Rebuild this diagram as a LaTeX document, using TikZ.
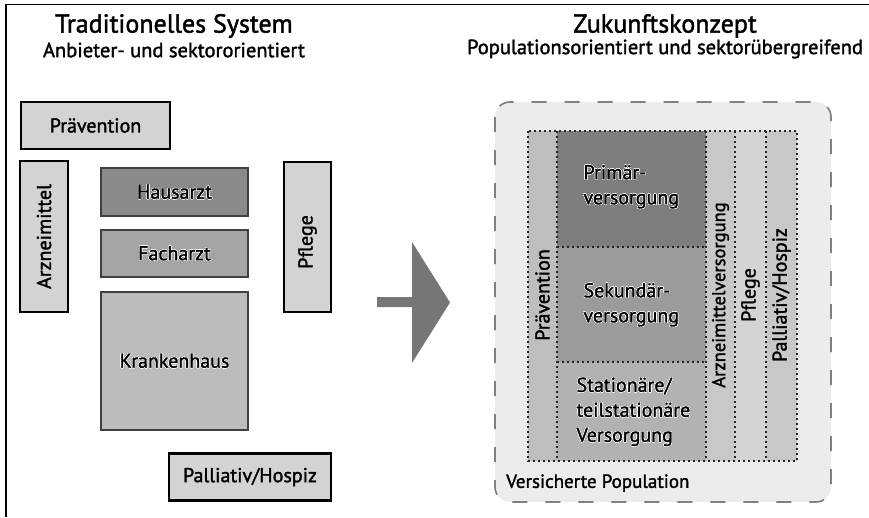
\documentclass[tikz,border=0pt]{standalone}
\usepackage{fontspec}
\setmainfont{PT Sans}[UprightFeatures={FakeBold=1.6}]
\usepackage[copies]{contour}
\contourlength{0.45pt}
\usetikzlibrary{positioning}
\definecolor{gpale}{HTML}{D3D3D3}
\definecolor{ghaus}{HTML}{8A8A8A}
\definecolor{gfach}{HTML}{A5A5A5}
\definecolor{gkrank}{HTML}{BCBCBC}
\definecolor{gprim}{HTML}{7E7E7E}
\definecolor{gsek}{HTML}{9B9B9B}
\definecolor{gstat}{HTML}{B2B2B2}
\definecolor{gcolA}{HTML}{BEBEBE}
\definecolor{gcolB}{HTML}{C8C8C8}
\definecolor{gcolC}{HTML}{D4D4D4}
\definecolor{gpop}{HTML}{ECECEC}
\definecolor{garrow}{HTML}{767676}
\newcommand{\glow}[1]{\contour{white}{#1}}

\begin{document}
\begin{tikzpicture}[x=1pt, y=-1pt,
  titlefont/.style={font=\fontsize{26}{29}\selectfont},
  subfont/.style={font=\fontsize{20.5}{23}\selectfont},
  oldbox/.style={draw=black, line width=2.6pt, fill=gpale, inner sep=0pt,
    font=\fontsize{20}{24}\selectfont},
  careBox/.style={draw=black!75, line width=1.3pt, inner sep=0pt,
    font=\fontsize{20}{24}\selectfont},
  colbox/.style={inner sep=0pt, minimum height=330pt},
  collabel/.style={rotate=90, font=\fontsize{20}{24}\selectfont},
  dotline/.style={line width=1.6pt, black!85, dash pattern=on 1.6pt off 3.4pt},
]
\useasboundingbox (0,0) rectangle (869,517);
% ---- frame ----
\draw[line width=1.6pt] (6,517) -- (6,4.5) -- (869,4.5);
% ---- headings ----
\node[titlefont] (titleold) at (174,26) {Traditionelles System};
\node[subfont] (subold) at (174,50) {Anbieter- und sektororientiert};
\node[titlefont] (titlenew) at (665,26) {Zukunftskonzept};
\node[subfont] (subnew) at (665,49) {Populationsorientiert und sektorübergreifend};
% ---- traditional system: separate sectors ----
\node[oldbox, minimum width=149pt, minimum height=47pt] (praev) at (95.5,125.5) {Prävention};
\node[oldbox, rotate=90, minimum width=151pt, minimum height=48pt] (arznei) at (44,236.5) {Arzneimittel};
\node[careBox, fill=ghaus, minimum width=147pt, minimum height=48pt] (haus) at (174.5,192) {\glow{Hausarzt}};
\node[careBox, fill=gfach, minimum width=147pt, minimum height=47pt] (fach) at (174.5,253.5) {\glow{Facharzt}};
\node[careBox, fill=gkrank, minimum width=147pt, minimum height=138pt] (krank) at (174.5,361) {\glow{Krankenhaus}};
\node[oldbox, rotate=90, minimum width=150pt, minimum height=47pt] (pflege) at (307.5,237) {Pflege\hspace*{10pt}};
\node[oldbox, minimum width=162pt, minimum height=47pt] (palli) at (250,477) {Palliativ/Hospiz};
% ---- big arrow ----
\fill[garrow] (377,297) -- (412,297) -- (412,242) -- (450,302.5) -- (412,363)
  -- (412,307) -- (377,307) -- cycle;
% ---- future concept: insured population ----
\draw[gpop!95!black, fill=gpop, line width=1.6pt, dash pattern=on 15pt off 18pt,
  rounded corners=15pt] (495,102) rectangle (831,502);
\node[anchor=west, inner sep=2pt] (popul) at (504,483) {\fontsize{19}{22}\selectfont Versicherte Population};
\draw[gray, line width=1.6pt, dash pattern=on 15pt off 18pt, rounded corners=15pt]
  (495,102) rectangle (831,502);
% ---- cross-sector columns ----
\foreach \nm/\xa/\xb/\col/\txt in {praevcol/528/557/gcolA/Prävention,
    arzncol/706/735/gcolB/{\fontsize{18.5}{22}\selectfont Arzneimittelversorgung},
    pflcol/735/766/gcolC/Pflege, pallcol/766/797/gcolB/{Palliativ/Hospiz}}{
  \node[colbox, fill=\col, minimum width={(\xb-\xa)*1pt}] (\nm) at ({(\xa+\xb)/2},296) {};
  \node[collabel] (\nm-txt) at ({(\xa+\xb)/2},295) {\txt};}
\node[colbox, fill=gprim, minimum width=149pt, minimum height=116pt] (prim) at (631.5,189) {};
\node[colbox, fill=gsek, minimum width=149pt, minimum height=115pt] (sek) at (631.5,304.5) {};
\node[colbox, fill=gstat, minimum width=149pt, minimum height=99pt] (stat) at (631.5,411.5) {};
\node[anchor=west, align=left, font=\fontsize{20}{25}\selectfont] (primtxt) at (580,187)
  {\glow{Primär-}\\\glow{versorgung}};
\node[anchor=west, align=left, font=\fontsize{20}{25}\selectfont] (sektxt) at (580,305)
  {\glow{Sekundär-}\\\glow{versorgung}};
\node[anchor=west, align=left, font=\fontsize{20}{25}\selectfont] (stattxt) at (573,412)
  {\glow{Stationäre/}\\\glow{teilstationäre}\\\glow{Versorgung}};
% ---- dotted borders ----
\draw[dotline] (528,131) rectangle (797,461);
\foreach \xv in {557,706,735,766}{
  \draw[dotline] (\xv,131) -- (\xv,461);}
\draw[dotline] (557,247) -- (706,247);
\draw[dotline] (557,362) -- (706,362);
\end{tikzpicture}
\end{document}
